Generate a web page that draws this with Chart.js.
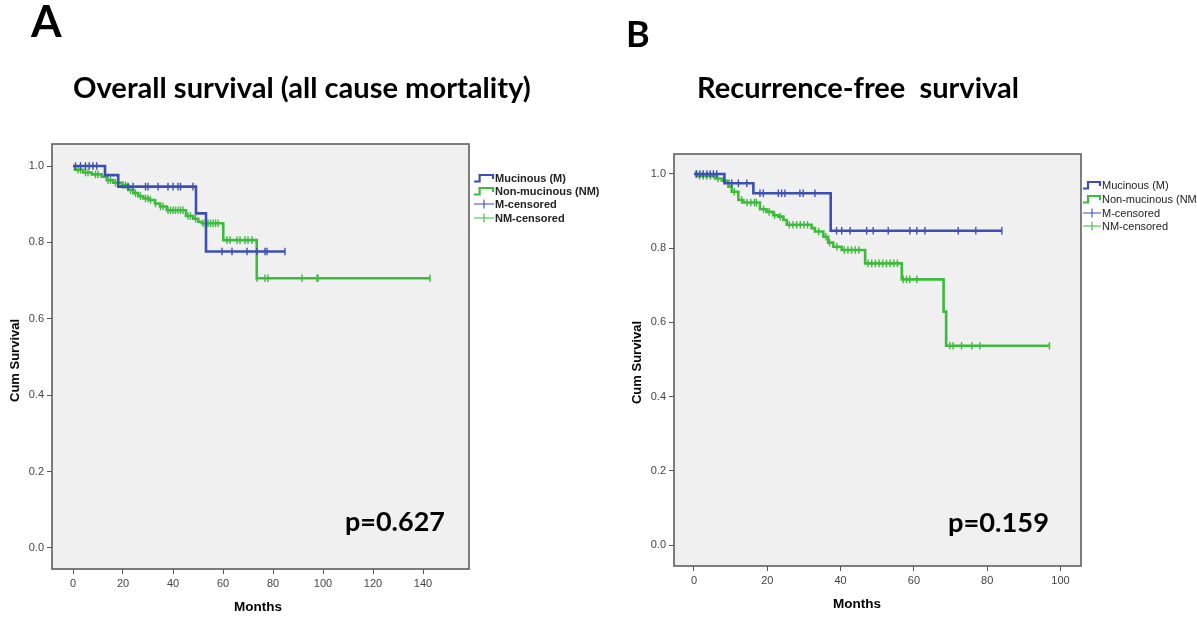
<!DOCTYPE html>
<html><head><meta charset="utf-8">
<script src="https://cdn.jsdelivr.net/npm/chart.js@4.4.1/dist/chart.umd.min.js"></script>
<style>
html,body{margin:0;padding:0;background:#fff;width:1197px;height:618px;overflow:hidden;position:relative;}
canvas{position:absolute;}
.t{position:absolute;white-space:pre;color:#000;}
.row{position:absolute;display:flex;align-items:center;white-space:pre;font-family:"Liberation Sans",Arial,sans-serif;color:#222;}
.row svg{flex:none;}
</style></head><body>
<canvas id="cA" width="490" height="618" style="left:0;top:0;width:490px;height:618px"></canvas>
<canvas id="cB" width="482" height="618" style="left:620px;top:0;width:482px;height:618px"></canvas>
<script>
// ---------- DATA ----------
const yTicks = [0, 0.2, 0.4, 0.6, 0.8, 1.0];
const xTicksA = [0, 20, 40, 60, 80, 100, 120, 140];
const xTicksB = [0, 20, 40, 60, 80, 100];
const seriesNames = ['Mucinous (M)', 'Non-mucinous (NM)', 'M-censored', 'NM-censored'];

// Panel A – overall survival: step times (months) and survival after each step
const aMucT = [0, 12.8, 18.1, 49.2, 53.2, 84.8];
const aMucS = [1.0, 0.976, 0.946, 0.876, 0.776, 0.776];
const aMucCens = [1, 3, 5, 6.5, 8, 9.5, 22, 24, 29, 30, 34, 38, 40, 42, 43, 48, 59.6, 63.6, 69.6, 73.6, 76.8, 77.6, 84.8];

const aNonT = [0, 0.8, 4.1, 7.5, 11.5, 13.5, 16.1, 19.5, 22.1, 24.1, 26.1, 28.1, 30.5, 32.8, 34.8, 37.5, 45.2, 48.1, 50.1, 51.5, 60.1, 73.5, 142.8];
const aNonS = [1.0, 0.99, 0.983, 0.978, 0.972, 0.963, 0.956, 0.950, 0.937, 0.929, 0.921, 0.915, 0.911, 0.902, 0.894, 0.884, 0.869, 0.862, 0.854, 0.850, 0.806, 0.706, 0.706];
const aNonCens = [2, 3, 5, 6, 9, 10, 14, 15, 17, 20, 21, 23, 25, 27, 29, 30, 31, 33, 35, 36, 38, 39, 40, 41, 42, 43, 44, 46, 47, 49, 52, 53, 54, 55, 56, 57, 58, 61.6, 62.8, 65.6, 66.8, 68.8, 70, 71.6, 73.6, 76.8, 78, 91.6, 97.6, 98, 142.8];

// Panel B – recurrence-free survival
const bMucT = [0, 8.3, 16.2, 37.3, 84];
const bMucS = [1.0, 0.975, 0.948, 0.847, 0.847];
const bMucCens = [0.7, 1.6, 2.5, 3.5, 4.4, 5.3, 6.2, 10.3, 12.1, 14.4, 18, 18.9, 23, 23.9, 24.8, 28.9, 29.8, 33, 38.9, 40.3, 42.6, 47.1, 48.9, 53, 58.9, 60.8, 63, 72.1, 76.9, 84];

const bNonT = [0, 1, 5.7, 7.6, 9.4, 10.3, 12.1, 13.5, 18, 19.8, 21.6, 23, 24.4, 25.3, 32.1, 33, 35.3, 36.6, 38, 40.3, 46.7, 56.7, 68.1, 68.8, 97];
const bNonS = [1.0, 0.995, 0.988, 0.982, 0.966, 0.952, 0.93, 0.923, 0.905, 0.898, 0.889, 0.885, 0.876, 0.863, 0.854, 0.845, 0.831, 0.815, 0.804, 0.795, 0.759, 0.716, 0.629, 0.537, 0.537];
const bNonCens = [0.5, 1.5, 2.5, 3.5, 4.5, 6.5, 11, 13, 14.5, 15.5, 16.5, 17, 19, 20.5, 22, 23.5, 26, 27, 28, 29, 30, 31, 34, 36, 37, 39, 41, 42, 43, 44, 45, 47.5, 48.5, 49.5, 50.5, 51.5, 52.5, 53.5, 54.5, 55.5, 57.1, 58, 58.9, 60.8, 69.8, 70.7, 73, 75.8, 78, 97];

// ---------- STYLE ----------
const BLUE = '#3d4fb3';
const GREEN = '#3dbb3d';
const TICKFONT = '"Liberation Sans", Arial, sans-serif';

function kmAt(T, S, t) { let v = S[0]; for (let i = 0; i < T.length; i++) { if (T[i] <= t) v = S[i]; } return v; }
function pts(T, S) { return T.map((t, i) => ({ x: t, y: S[i] })); }
function cens(T, S, C) { return C.map(t => ({ x: t, y: kmAt(T, S, t) })); }

const framePlugin = {
  id: 'frame',
  beforeDraw(chart) {
    const a = chart.chartArea, c = chart.ctx;
    c.save(); c.fillStyle = '#f0f0f0'; c.fillRect(a.left, a.top, a.right - a.left, a.bottom - a.top); c.restore();
  },
  afterDraw(chart) {
    const a = chart.chartArea, c = chart.ctx;
    c.save(); c.strokeStyle = '#5e5e5e'; c.lineWidth = 1.6;
    c.strokeRect(a.left, a.top, a.right - a.left, a.bottom - a.top); c.restore();
  }
};

function makeChart(id, o) {
  const curve = (T, S, col) => ({ type: 'line', data: pts(T, S), stepped: 'before', borderColor: col, borderWidth: 2.6, pointRadius: 0, pointHoverRadius: 0, fill: false });
  const marks = (T, S, C, col) => ({ type: 'line', data: cens(T, S, C), showLine: false, pointStyle: 'line', rotation: 90, pointRadius: 3.8, pointHoverRadius: 0, borderColor: col, borderWidth: 1.4, clip: false });
  new Chart(document.getElementById(id), {
    type: 'line',
    data: { datasets: [
      curve(o.mT, o.mS, BLUE), marks(o.mT, o.mS, o.mC, BLUE),
      curve(o.nT, o.nS, GREEN), marks(o.nT, o.nS, o.nC, GREEN)
    ] },
    options: {
      responsive: false, animation: false, devicePixelRatio: 1,
      layout: { padding: o.pad },
      plugins: { legend: { display: false }, tooltip: { enabled: false } },
      events: [],
      scales: {
        x: { type: 'linear', min: o.xmin, max: o.xmax,
          afterFit(s) { s.height = 30; },
          afterBuildTicks(s) { s.ticks = o.xTicks.map(v => ({ value: v })); },
          ticks: { color: '#444', font: { family: TICKFONT, size: 11 }, padding: 3, maxRotation: 0, autoSkip: false, callback: v => String(v) },
          grid: { display: true, drawOnChartArea: false, drawTicks: true, tickLength: 5, color: '#555', lineWidth: 1 },
          border: { display: false } },
        y: { type: 'linear', min: o.ymin, max: o.ymax,
          afterFit(s) { s.width = 40; },
          afterBuildTicks(s) { s.ticks = yTicks.map(v => ({ value: v })); },
          ticks: { color: '#444', font: { family: TICKFONT, size: 11 }, padding: 3, autoSkip: false, callback: v => Number(v).toFixed(1) },
          grid: { display: true, drawOnChartArea: false, drawTicks: true, tickLength: 5, color: '#555', lineWidth: 1 },
          border: { display: false } }
      }
    },
    plugins: [framePlugin]
  });
}

makeChart('cA', { mT: aMucT, mS: aMucS, mC: aMucCens, nT: aNonT, nS: aNonS, nC: aNonCens,
  xTicks: xTicksA, xmin: -8.4, xmax: 158.4, ymin: -0.055, ymax: 1.0576,
  pad: { left: 12, right: 21, top: 144, bottom: 19 } });
makeChart('cB', { mT: bMucT, mS: bMucS, mC: bMucCens, nT: bNonT, nS: bNonS, nC: bNonCens,
  xTicks: xTicksB, xmin: -5.457, xmax: 105.6, ymin: -0.0566, ymax: 1.0539,
  pad: { left: 14, right: 21, top: 154, bottom: 22 } });

// ---------- TEXT ----------
const mctx = document.createElement('canvas').getContext('2d');
function place(text, o) {
  const fam = o.family, wt = o.weight || 'normal';
  let size = o.size || 20;
  mctx.font = `${wt} ${size}px ${fam}`;
  if (o.width) { size = size * o.width / mctx.measureText(text).width; mctx.font = `${wt} ${size}px ${fam}`; }
  if (o.cap) { size = size * o.cap / mctx.measureText(text).actualBoundingBoxAscent; mctx.font = `${wt} ${size}px ${fam}`; }
  const m = mctx.measureText(text);
  const asc = m.fontBoundingBoxAscent || size * 0.9, desc = m.fontBoundingBoxDescent || size * 0.25;
  const d = document.createElement('div');
  d.className = 't'; d.textContent = text;
  d.style.font = `${wt} ${size}px ${fam}`;
  d.style.lineHeight = (asc + desc) + 'px';
  d.style.color = o.color || '#000';
  if (o.rotate) {
    d.style.left = (o.cx - m.width / 2) + 'px';
    d.style.top = (o.cy - (asc + desc) / 2) + 'px';
    d.style.width = m.width + 'px';
    d.style.transform = 'rotate(-90deg)';
  } else {
    const left = (o.left !== undefined) ? o.left : (o.center - m.width / 2);
    d.style.left = left + 'px';
    d.style.top = (o.baseline - asc) + 'px';
  }
  document.body.appendChild(d);
}
const TF = 'Lato, "Open Sans", sans-serif';
const AF = '"Liberation Sans", Arial, sans-serif';
place('A', { family: TF, weight: 'bold', cap: 33, left: 31, baseline: 37 });
place('Overall survival (all cause mortality)', { family: TF, weight: 'bold', width: 458, left: 73, baseline: 98 });
place('B', { family: TF, weight: 'bold', cap: 27, left: 626, baseline: 47 });
place('Recurrence-free  survival', { family: TF, weight: 'bold', width: 322, left: 697, baseline: 98 });
place('p=0.627', { family: TF, weight: 'bold', width: 100, left: 345, baseline: 531 });
place('p=0.159', { family: TF, weight: 'bold', width: 101, left: 948, baseline: 532 });
place('Months', { family: AF, weight: 'bold', size: 13.5, center: 258, baseline: 611 });
place('Months', { family: AF, weight: 'bold', size: 13.5, center: 857, baseline: 608 });
place('Cum Survival', { family: AF, weight: 'bold', size: 13, rotate: true, cx: 15, cy: 360 });
place('Cum Survival', { family: AF, weight: 'bold', size: 13, rotate: true, cx: 637, cy: 362 });

// ---------- LEGENDS ----------
function stepIcon(col, w) { return `<svg width="${w}" height="12" viewBox="0 0 ${w} 12"><path d="M1 9.5 H${w*0.3} V3 H${w-2} V7" fill="none" stroke="${col}" stroke-width="2.2"/></svg>`; }
function censIcon(col, w) { return `<svg width="${w}" height="12" viewBox="0 0 ${w} 12"><path d="M1 6 H${w-1} M${w/2} 1.5 V10.5" fill="none" stroke="${col}" stroke-width="1.1"/></svg>`; }
function legend(left, ys, w, font) {
  const icons = [stepIcon(BLUE, w), stepIcon(GREEN, w), censIcon(BLUE, w), censIcon(GREEN, w)];
  seriesNames.forEach((n, i) => {
    const r = document.createElement('div');
    r.className = 'row';
    r.style.left = left + 'px'; r.style.top = (ys[i] - 7) + 'px'; r.style.height = '14px';
    r.style.font = font;
    r.innerHTML = icons[i] + '<span>' + n + '</span>';
    document.body.appendChild(r);
  });
}
legend(473, [178, 191, 204, 218], 22, 'bold 11px "Liberation Sans", Arial, sans-serif');
legend(1082, [185, 199, 213, 226], 20, '11px "Liberation Sans", Arial, sans-serif');
</script>
</body></html>
